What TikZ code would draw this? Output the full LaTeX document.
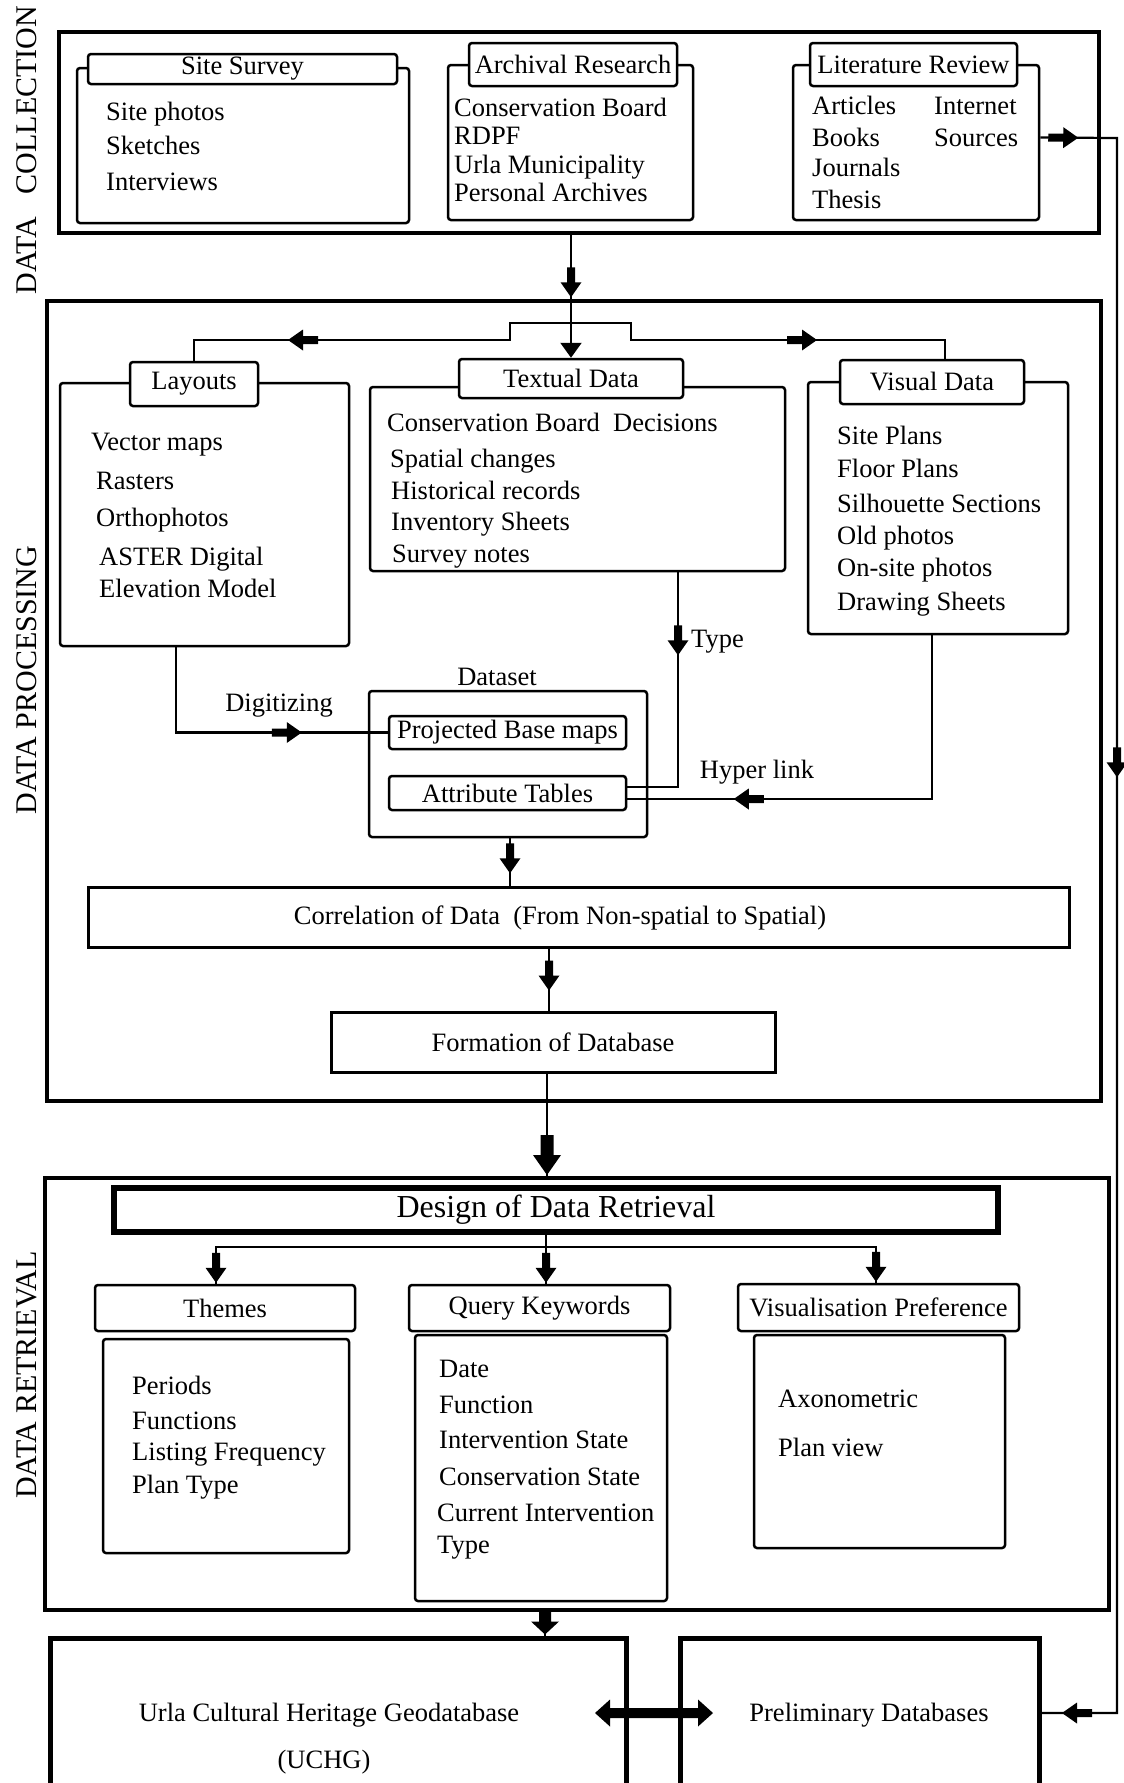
\documentclass[tikz,border=0pt]{standalone}
\usepackage{fontspec}
\setmainfont{Liberation Serif}
\usetikzlibrary{decorations.markings,arrows.meta,calc}

\newcommand{\mkS}{\fill (-30,-4) -- (-15,-4) -- (-15,-10.5) -- (0,0) -- (-15,10.5) -- (-15,4) -- (-30,4) -- cycle;}
\newcommand{\mkM}{\fill (-26,-6) -- (-13,-6) -- (-13,-14) -- (0,0) -- (-13,14) -- (-13,6) -- (-26,6) -- cycle;}
\newcommand{\mkB}{\fill (-40,-6.5) -- (-20,-6.5) -- (-20,-14) -- (0,0) -- (-20,14) -- (-20,6.5) -- (-40,6.5) -- cycle;}

\newcommand{\bx}[7]{%
  \pgfmathsetmacro{\bxw}{#5-#3}%
  \pgfmathsetmacro{\bxh}{#6-#4}%
  \pgfmathsetmacro{\bxcx}{(#3+#5)/2}%
  \pgfmathsetmacro{\bxcy}{(#4+#6)/2}%
  \node[#2, minimum width=\bxw pt, minimum height=\bxh pt] (#1) at (\bxcx,\bxcy) {#7};}
\newcommand{\itm}[4]{\node[itemtext] (#1) at (#2,#3) {#4};}

\tikzset{
  outer/.style={draw, line width=4.5pt, inner sep=0},
  ibox/.style={draw, line width=2.5pt, rounded corners=3pt, inner sep=0, fill=white},
  mbox/.style={draw, line width=3pt, inner sep=0, fill=white},
  dbox/.style={draw, line width=6pt, inner sep=0, fill=white, font=\fontsize{32}{32}\selectfont},
  bbox/.style={draw, line width=5pt, inner sep=0},
  itemtext/.style={anchor=base west, inner sep=0},
  conn/.style={line width=2.2pt},
  mS/.style={postaction={decorate,decoration={markings,mark=at position #1 with {\mkS}}}},
  mM/.style={postaction={decorate,decoration={markings,mark=at position #1 with {\mkM}}}},
  mB/.style={postaction={decorate,decoration={markings,mark=at position #1 with {\mkB}}}},
  sidelabel/.style={rotate=90, anchor=base, inner sep=0, font=\fontsize{30}{30}\selectfont},
}

\begin{document}
\begin{tikzpicture}[x=1pt,y=-1pt, font=\fontsize{26.5}{30}\selectfont]
\useasboundingbox (0,0) rectangle (1124,1783);
\fill[white] (0,0) rectangle (1124,1783);
\clip (0,0) rectangle (1124,1783);

% side labels
\node[sidelabel] (lab1) at (36,150) {DATA\hspace{0.75em}COLLECTION};
\node[sidelabel] (lab2) at (36,680) {DATA PROCESSING};
\node[sidelabel] (lab3) at (36,1375) {DATA RETRIEVAL};

% outer frames
\bx{dc}{outer}{59}{32}{1099}{233}{}
\bx{dp}{outer}{47}{301}{1101}{1101}{}
\bx{dr}{outer}{45}{1178}{1109}{1610}{}

% data collection
\bx{ssb}{ibox}{77}{68}{409}{223}{}
\bx{arb}{ibox}{448}{65}{693}{220}{}
\bx{lrb}{ibox}{793}{65}{1039}{220}{}
\bx{sst}{ibox}{88}{54}{397}{84}{Site Survey}
\bx{art}{ibox}{469}{43}{677}{86}{Archival Research}
\bx{lrt}{ibox}{810}{43}{1017}{86}{Literature Review}

\itm{s1}{106}{120}{Site photos}
\itm{s2}{106}{154}{Sketches}
\itm{s3}{106}{190}{Interviews}
\itm{a1}{454}{116}{Conservation Board}
\itm{a2}{454}{144}{RDPF}
\itm{a3}{454}{173}{Urla Municipality}
\itm{a4}{454}{201}{Personal Archives}
\itm{l1}{812}{114}{Articles}
\itm{l2}{812}{146}{Books}
\itm{l3}{812}{176}{Journals}
\itm{l4}{812}{208}{Thesis}
\itm{l5}{934}{114}{Internet}
\itm{l6}{934}{146}{Sources}

% data processing
\bx{lb}{ibox}{60}{383}{349}{646}{}
\bx{tdb}{ibox}{370}{387}{785}{571}{}
\bx{vb}{ibox}{808}{382}{1068}{634}{}
\bx{lt}{ibox}{130}{362}{258}{406}{Layouts}
\bx{tdt}{ibox}{459}{359}{683}{398}{Textual Data}
\bx{vt}{ibox}{840}{360}{1024}{404}{Visual Data}

\itm{y1}{91}{450}{Vector maps}
\itm{y2}{96}{489}{Rasters}
\itm{y3}{96}{526}{Orthophotos}
\itm{y4}{99}{565}{ASTER Digital}
\itm{y5}{99}{597}{Elevation Model}
\itm{t1}{387}{431}{Conservation Board\ \ Decisions}
\itm{t2}{390}{467}{Spatial changes}
\itm{t3}{391}{499}{Historical records}
\itm{t4}{391}{530}{Inventory Sheets}
\itm{t5}{392}{562}{Survey notes}
\itm{v1}{837}{444}{Site Plans}
\itm{v2}{837}{477}{Floor Plans}
\itm{v3}{837}{512}{Silhouette Sections}
\itm{v4}{837}{544}{Old photos}
\itm{v5}{837}{576}{On-site photos}
\itm{v6}{837}{610}{Drawing Sheets}

\bx{ds}{ibox}{369}{691}{647}{837}{}
\bx{pbm}{ibox}{389}{716}{626}{749}{Projected Base maps}
\bx{at}{ibox}{389}{776}{626}{810}{Attribute Tables}
\node (dslab) at (497,677) {Dataset};

\bx{cor}{mbox}{88}{887}{1069}{947}{}
\node (cortxt) at (560,918) {Correlation of Data\ \ (From Non-spatial to Spatial)};
\bx{fdb}{mbox}{331}{1012}{775}{1072}{Formation of Database}

% data retrieval
\bx{ddr}{dbox}{114}{1188}{998}{1232}{Design of Data Retrieval}
\bx{tht}{ibox}{95}{1285}{355}{1331}{Themes}
\bx{qkt}{ibox}{409}{1285}{670}{1331}{Query Keywords}
\bx{vpt}{ibox}{738}{1284}{1019}{1331}{Visualisation Preference}
\bx{thb}{ibox}{103}{1339}{349}{1553}{}
\bx{qkb}{ibox}{415}{1335}{667}{1601}{}
\bx{vpb}{ibox}{754}{1335}{1005}{1548}{}

\itm{h1}{132}{1394}{Periods}
\itm{h2}{132}{1429}{Functions}
\itm{h3}{132}{1460}{Listing Frequency}
\itm{h4}{132}{1493}{Plan Type}
\itm{q1}{439}{1377}{Date}
\itm{q2}{439}{1413}{Function}
\itm{q3}{439}{1448}{Intervention State}
\itm{q4}{439}{1485}{Conservation State}
\itm{q5}{437}{1521}{Current Intervention}
\itm{q6}{437}{1553}{Type}
\itm{p1}{778}{1407}{Axonometric}
\itm{p2}{778}{1456}{Plan view}

% bottom boxes
\bx{uchg}{bbox}{50}{1638}{626}{1788}{}
\bx{pd}{bbox}{680}{1638}{1039}{1788}{}
\node (uchgt1) at (329,1715) {Urla Cultural Heritage Geodatabase};
\node (uchgt2) at (324,1762) {(UCHG)};
\node (pdt) at (869,1715) {Preliminary Databases};

% ---------- connectors ----------
% collection -> processing -> textual data
\draw[conn, mS=62pt, -{Triangle[length=15pt,width=21pt]}] (dc.south -| tdt.north) -- (tdt.north);
\coordinate (hub) at (571,323);
\draw[conn, mS=300pt] (hub) -- (510,323) -- (510,340) -- (194,340) -- (lt.north);
\draw[conn, mS=263pt] (hub) -- (631,323) -- (631,340) -- (945,340) -- (945,360);

% type
\draw[conn, mS=83pt] ($(tdb.south)+(100.5,0)$) |- ($(at.east)+(0,-6)$);
\node[anchor=west, inner sep=0] (typelab) at (691,642) {Type};
% digitizing
\draw[conn, mS=211pt] ($(lb.south)+(-28.5,0)$) |- (pbm.west);
\node (diglab) at (279,706) {Digitizing};
% hyper link
\draw[conn, mS=362pt] ($(vb.south)+(-6,0)$) |- ($(at.east)+(0,6)$);
\node (hyplab) at (757,772) {Hyper link};

% dataset -> correlation -> formation -> retrieval
\coordinate (dss) at ($(ds.south)+(2,0)$);
\draw[conn, mS=35pt] (dss) -- (dss |- cor.north);
\coordinate (cors) at ($(cor.south)+(-29.5,0)$);
\draw[conn, mS=42pt] (cors) -- (cors |- fdb.north);
\coordinate (fdbs) at ($(fdb.south)+(-6,0)$);
\draw[conn, mB=101.5pt] (fdbs) -- (fdbs |- dr.north);

% design branches
\coordinate (ddrs) at ($(ddr.south)+(-10,0)$);
\draw[conn, mS=-1pt] (ddrs) -- ++(0,12) -| ($(tht.north)+(-9,0)$);
\draw[conn, mS=-1pt] (ddrs) -- (ddrs |- qkt.north);
\draw[conn, mS=-1pt] (ddrs) -- ++(0,12) -| ($(vpt.north)+(-2.5,0)$);

% retrieval -> UCHG
\coordinate (drs) at ($(dr.south)+(-32,0)$);
\draw[conn, mM=-1pt] (drs) -- (drs |- uchg.north);

% literature review -> preliminary databases
\coordinate (lrs) at ($(lrb.east)+(0,-5)$);
\draw[conn, mS=38pt, mS=716pt, mS=-20.5pt] (lrs) -- (1117,138) -- (1117,1713) -- (pd.east);

% double arrow UCHG <-> preliminary
\fill (595,1713) -- (610,1699.5) -- (610,1708) -- (698,1708) -- (698,1699.5) -- (713,1713)
      -- (698,1726.5) -- (698,1718) -- (610,1718) -- (610,1726.5) -- cycle;
\end{tikzpicture}
\end{document}
